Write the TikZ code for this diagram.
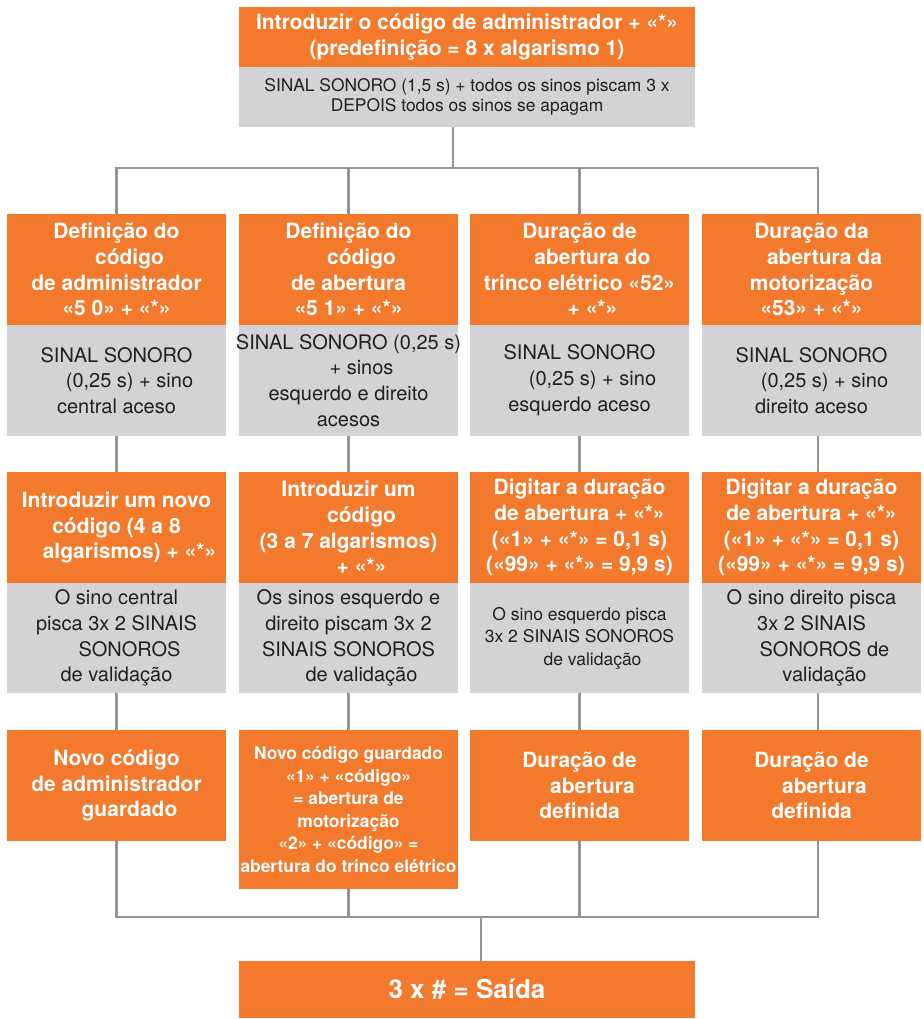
\documentclass[tikz,border=0pt]{standalone}
\usepackage{fontspec}
\setmainfont{TeX Gyre Heros}
\definecolor{boxorange}{HTML}{F37A2D}
\definecolor{boxgray}{HTML}{D1D3D4}
\definecolor{linegray}{HTML}{939598}
\definecolor{inkdark}{HTML}{231F20}
% indentation used by some wrapped lines
\newcommand\lpad{\hspace*{26pt}}
\begin{document}
\begin{tikzpicture}[x=1pt,y=-1pt,
  base/.style={inner sep=0pt, outer sep=0pt, align=center, minimum width=219pt, minimum height=111pt},
  obox/.style={base, fill=boxorange, text=white, font=\fontsize{21}{25.7}\selectfont\bfseries},
  gbox/.style={base, fill=boxgray, text=inkdark, font=\fontsize{20}{25.8}\selectfont},
  gsmall/.style={gbox, font=\fontsize{17.5}{22.5}\selectfont},
  conn/.style={draw=linegray, line width=2.8pt}]
\useasboundingbox (0,0) rectangle (923,1019);

% junction points of the connector buses
\coordinate (j1) at (117,168);
\coordinate (jt) at (453,168);
\coordinate (j4) at (818,168);
\coordinate (k1) at (117,917);
\coordinate (kx) at (481,917);
\coordinate (k4) at (818,917);

% top step
\node[obox, minimum width=456pt, minimum height=60pt] (top) at (467,37)
  {Introduzir o código de administrador + «*»\\(predefinição = 8 x algarismo 1)};
\node[gbox, minimum width=456pt, minimum height=60pt, font=\fontsize{17.4}{20}\selectfont] (tg) at (467,97)
  {SINAL SONORO (1,5 s) + todos os sinos piscam 3 x\\DEPOIS todos os sinos se apagam};

% row 1: menu choices
\node[obox] (h1) at (116.5,269.5) {Definição do\\\lpad código\\de administrador\\«5 0» + «*»};
\node[obox] (h2) at (348.5,269.5) {Definição do\\\lpad código\\de abertura\\«5 1» + «*»};
\node[obox] (h3) at (579.5,269.5) {Duração de\\\lpad abertura do\\trinco elétrico «52»\\\lpad + «*»};
\node[obox] (h4) at (811.5,269.5) {Duração da\\\lpad abertura da\\motorização\\«53» + «*»};

\node[gbox] (g1) at (116.5,380.5) {SINAL SONORO\\\lpad (0,25 s) + sino\\central aceso};
\node[gbox] (g2) at (348.5,380.5) {\makebox[200pt]{SINAL SONORO (0,25 s)}\\\lpad + sinos\\esquerdo e direito\\acesos};
\node[gbox] (g3) at (579.5,380.5) {SINAL SONORO\\\lpad (0,25 s) + sino\\esquerdo aceso};
\node[gbox] (g4) at (811.5,380.5) {SINAL SONORO\\\lpad (0,25 s) + sino\\direito aceso};

% row 2: entries
\node[obox] (s1) at (116.5,527.5) {Introduzir um novo\\código (4 a 8\\\lpad algarismos) + «*»};
\node[obox] (s2) at (348.5,527.5) {Introduzir um\\\lpad código\\(3 a 7 algarismos)\\\lpad + «*»};
\node[obox] (s3) at (579.5,527.5) {Digitar a duração\\de abertura + «*»\\(«1» + «*» = 0,1 s)\\(«99» + «*» = 9,9 s)};
\node[obox] (s4) at (811.5,527.5) {Digitar a duração\\de abertura + «*»\\(«1» + «*» = 0,1 s)\\(«99» + «*» = 9,9 s)};

\node[gbox, minimum height=110pt] (v1) at (116.5,638) {O sino central\\pisca 3x 2 SINAIS\\\lpad SONOROS\\de validação};
\node[gbox, minimum height=110pt] (v2) at (348.5,638) {Os sinos esquerdo e\\direito piscam 3x 2\\SINAIS SONOROS\\\lpad de validação};
\node[gsmall, minimum height=110pt] (v3) at (579.5,638) {O sino esquerdo pisca\\3x 2 SINAIS SONOROS\\\lpad de validação};
\node[gbox, minimum height=110pt] (v4) at (811.5,638) {O sino direito pisca\\3x 2 SINAIS\\\lpad SONOROS de\\\lpad validação};

% row 3: results
\node[obox] (r1) at (116.5,785.5) {Novo código\\de administrador\\\lpad guardado};
\node[obox, minimum height=159pt, font=\fontsize{17.4}{22.6}\selectfont\bfseries] (r2) at (348.5,809.5)
  {Novo código guardado\\«1» + «código»\\= abertura de\\motorização\\«2» + «código» =\\abertura do trinco elétrico};
\node[obox] (r3) at (579.5,785.5) {Duração de\\\lpad abertura\\definida};
\node[obox] (r4) at (811.5,785.5) {Duração de\\\lpad abertura\\definida};

% exit
\node[obox, minimum width=456pt, minimum height=57pt, font=\fontsize{26}{30}\selectfont\bfseries] (fin) at (467,989.5) {3 x \# = Saída};

% connectors
\draw[conn] (jt |- tg.south) -- (jt);
\draw[conn] (h1.north) -- (h1.north |- j1) -- (j4) -- (j4 |- h4.north);
\draw[conn] (h2.north) -- (h2.north |- j1);
\draw[conn] (h3.north) -- (h3.north |- j1);

\draw[conn] (g1.south) -- (s1.north);
\draw[conn] (g2.south) -- (s2.north);
\draw[conn] (g3.south) -- (s3.north);
\draw[conn] (g4.south -| j4) -- (s4.north -| j4);

\draw[conn] (v1.south) -- (r1.north);
\draw[conn] (v2.south) -- (r2.north);
\draw[conn] (v3.south) -- (r3.north);
\draw[conn] (v4.south -| j4) -- (r4.north -| j4);

\draw[conn] (r1.south) -- (r1.south |- k1) -- (k4) -- (k4 |- r4.south);
\draw[conn] (r2.south) -- (r2.south |- k1);
\draw[conn] (r3.south) -- (r3.south |- k1);
\draw[conn] (kx) -- (kx |- fin.north);
\end{tikzpicture}
\end{document}
